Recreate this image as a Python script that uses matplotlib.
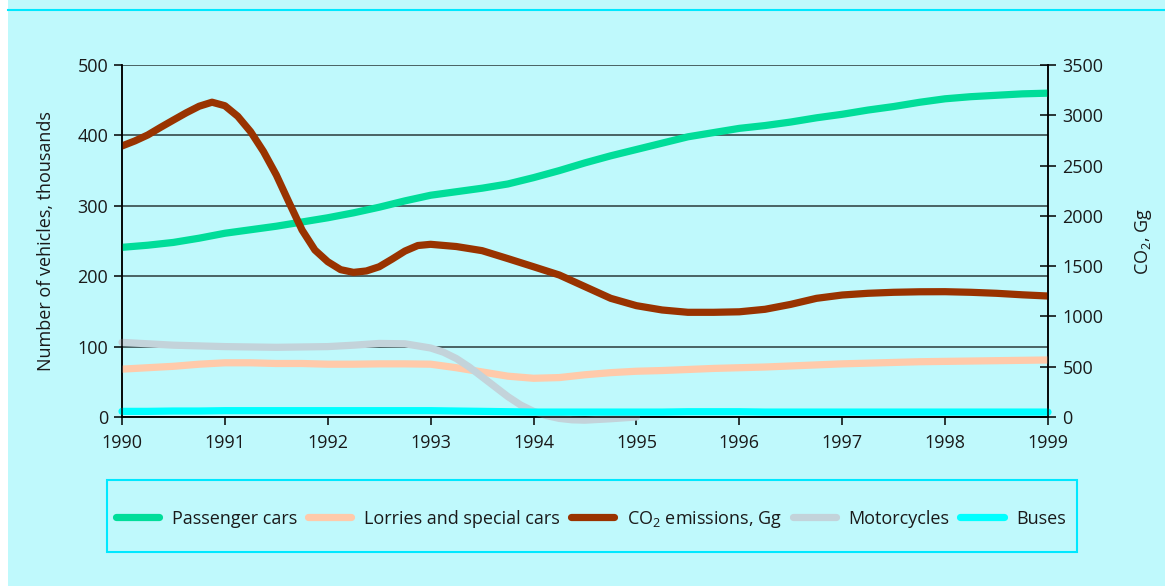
import numpy as np
import matplotlib.pyplot as plt
from matplotlib.patches import Rectangle
from matplotlib.lines import Line2D

plt.rcParams['font.family'] = ['Open Sans', 'DejaVu Sans']
plt.rcParams['mathtext.default'] = 'regular'

# quarter-year steps
years_q = np.arange(1990, 1999.01, 0.25)

# vehicles, thousands (left axis)
passenger = [241, 244, 248, 254, 261, 266, 271, 277, 283, 290, 298, 307, 315, 320, 325, 331,
             340, 350, 361, 371, 380, 389, 398, 404, 410, 414, 419, 425, 430, 436, 441, 447,
             452, 455, 457, 459, 460]
lorries = [68, 70, 72, 75, 77, 77, 76, 76, 75, 75, 75.5, 75.5, 75, 70, 64, 58,
           55, 56, 60, 63, 65, 66, 67.5, 69, 70, 71, 72.5, 74, 75.5, 76.5, 77.5, 78.5,
           79, 79.5, 80, 80.5, 81]
buses = [8, 8, 8.5, 8.5, 9, 9, 9, 9, 9, 9, 9, 9, 9, 8.5, 8, 7.5,
         7, 7, 7, 7, 7, 7, 7.5, 7.5, 7.5, 7, 7, 7, 7, 7, 7, 7,
         7, 7, 7, 7, 7]

# motorcycles stop at 1995
years_m = [1990, 1990.5, 1991, 1991.5, 1992, 1992.25, 1992.5, 1992.75, 1993, 1993.125, 1993.25,
           1993.375, 1993.5, 1993.625, 1993.75, 1993.875, 1994, 1994.125, 1994.25, 1994.375,
           1994.5, 1994.75, 1995]
motorcycles = [106, 102, 100, 99, 100, 102, 104.5, 104, 98, 92, 83,
               71, 57, 43, 29, 17, 8, 2, -2, -4,
               -4.5, -2.5, 0]

# CO2 emissions, Gg (right axis)
years_c = [1990, 1990.125, 1990.25, 1990.375, 1990.5, 1990.625, 1990.75, 1990.875, 1991,
           1991.125, 1991.25, 1991.375, 1991.5, 1991.625, 1991.75, 1991.875, 1992,
           1992.125, 1992.25, 1992.375, 1992.5, 1992.625, 1992.75, 1992.875, 1993,
           1993.25, 1993.5, 1993.75, 1994, 1994.25, 1994.5, 1994.75, 1995, 1995.25,
           1995.5, 1995.75, 1996, 1996.25, 1996.5, 1996.75, 1997, 1997.25, 1997.5,
           1997.75, 1998, 1998.25, 1998.5, 1998.75, 1999]
co2 = [2695, 2745, 2804, 2880, 2953, 3025, 3090, 3130, 3095,
       2990, 2837, 2640, 2406, 2130, 1859, 1660, 1544,
       1465, 1438, 1452, 1494, 1570, 1650, 1705, 1717,
       1695, 1654, 1575, 1494, 1412, 1296, 1180, 1107, 1064,
       1041, 1041, 1046, 1071, 1120, 1180, 1213, 1230, 1240,
       1245, 1246, 1240, 1230, 1215, 1203]

bg = '#bff9fc'
fig = plt.figure(figsize=(11.65, 5.86), dpi=100, facecolor=bg)
fig.patches.append(Rectangle((0, 0), 8 / 1165, 1, transform=fig.transFigure, facecolor='white',
                             edgecolor='none', zorder=0))
fig.lines.append(Line2D([8 / 1165, 1], [1 - 10 / 586] * 2, transform=fig.transFigure,
                        color='#00e8ff', lw=1.5))

ax = fig.add_axes([122 / 1165, 1 - 417 / 586, 926 / 1165, 352 / 586])
ax.set_facecolor(bg)
ax2 = ax.twinx()

kw = dict(lw=5.2, solid_capstyle='round', solid_joinstyle='round')
l1, = ax.plot(years_q, passenger, color='#00dd99', label='Passenger cars', zorder=5, **kw)
l2, = ax.plot(years_q, lorries, color='#ffcaaa', label='Lorries and special cars', zorder=3, **kw)
l4, = ax.plot(years_m, motorcycles, color='#c3d3da', label='Motorcycles', zorder=4,
              clip_on=False, **kw)
l5, = ax.plot(years_q, buses, color='#00ffff', label='Buses', zorder=6, clip_on=False, **kw)
l3, = ax2.plot(years_c, co2, color='#993300', label='CO$_2$ emissions, Gg', **kw)

ax.set_xlim(1990, 1999)
ax.set_ylim(0, 500)
ax2.set_ylim(0, 3500)
ax.set_xticks(range(1990, 2000))
ax.set_yticks(range(0, 501, 100))
ax2.set_yticks(range(0, 3501, 500))

ax.grid(axis='y', color='#2a3a3a', lw=1.1)
ax.set_axisbelow(True)
for a in (ax, ax2):
    a.spines['top'].set_visible(False)
    for s in a.spines.values():
        s.set_linewidth(1.1)
ax.tick_params(axis='both', direction='out', length=6, width=1.1, pad=4, labelsize=13,
               labelcolor='#1a1a1a')
ax2.tick_params(axis='y', direction='inout', length=11, width=1.1, pad=5, labelsize=13,
                labelcolor='#1a1a1a')
ax.tick_params(axis='x', pad=6)

ax.set_ylabel('Number of vehicles, thousands', fontsize=13, labelpad=16, color='#1a1a1a')
ax2.set_ylabel('CO$_2$, Gg', fontsize=13, labelpad=21, color='#1a1a1a')

# legend box
fig.patches.append(Rectangle((107 / 1165, 1 - 552 / 586), 970 / 1165, 72 / 586,
                             transform=fig.transFigure, facecolor='none',
                             edgecolor='#00e8ff', lw=1.5))
fig.legend(handles=[l1, l2, l3, l4, l5], loc='center', bbox_to_anchor=(591 / 1165, 1 - 519 / 586),
           ncol=5, frameon=False, fontsize=13, handlelength=2.4, handletextpad=0.7,
           columnspacing=0.6, labelcolor='#1a1a1a')

fig.savefig('out.png', dpi=100, facecolor=bg)
